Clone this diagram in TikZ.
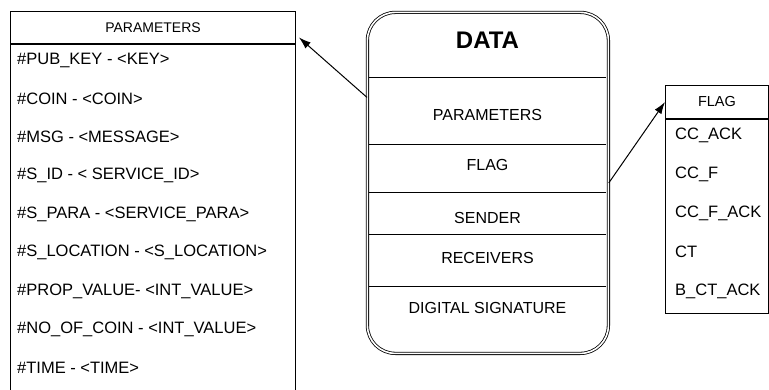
\documentclass[tikz,border=0pt]{standalone}
\usepackage{fontspec}
\setmainfont{Liberation Sans}
\usetikzlibrary{positioning,arrows.meta}

\tikzset{
  headcell/.style={draw, line width=1pt, anchor=north west, inner sep=0pt},
  bodycell/.style={draw, line width=1pt, anchor=north, inner sep=0pt},
  rowtext/.style={anchor=west, inner sep=0pt, font=\fontsize{16.5}{18}\selectfont},
  celltext/.style={inner sep=0pt, font=\fontsize{16}{18}\selectfont},
  link/.style={line width=1pt, -{Latex[length=12pt,width=8pt]}}
}

\begin{document}
\begin{tikzpicture}[x=1pt, y=-1pt]
  \clip (0,0) rectangle (769,390);
  % parameters table
  \node[headcell, minimum width=285pt, minimum height=32pt, font=\fontsize{14}{16}\selectfont] (phead) at (10,11) {PARAMETERS};
  \node[bodycell, minimum width=285pt, minimum height=380pt] (pbody) at (phead.south) {};
  \foreach \txt [count=\i] in {\#PUB\_KEY - <KEY>, \#COIN - <COIN>, \#MSG - <MESSAGE>,
      \#S\_ID - < SERVICE\_ID>, \#S\_PARA - <SERVICE\_PARA>, \#S\_LOCATION - <S\_LOCATION>,
      \#PROP\_VALUE- <INT\_VALUE>, \#NO\_OF\_COIN - <INT\_VALUE>, \#TIME - <TIME>}
    \node[rowtext] (prow\i) at (17,{60+38.5*(\i-1)}) {\txt};

  % data block
  \foreach \y in {78,145,193,235,287}
    \draw[line width=1pt] (369,\y) -- (606,\y);
  \node[draw, double, double distance=1.6pt, line width=0.8pt, rounded corners=28pt, minimum width=241pt, minimum height=341pt, anchor=north west, inner sep=0pt] (data) at (367,12) {};
  \node[inner sep=0pt, font=\fontsize{24}{26}\selectfont\bfseries] (dtitle) at (487.5,40) {DATA};
  \node[celltext] (dpar) at (487.5,115) {PARAMETERS};
  \node[celltext] (dflag) at (487.5,165) {FLAG};
  \node[celltext] (dsend) at (487.5,218) {SENDER};
  \node[celltext] (drecv) at (487.5,258) {RECEIVERS};
  \node[celltext] (dsig) at (487.5,308) {DIGITAL SIGNATURE};

  % flag table
  \node[headcell, minimum width=103pt, minimum height=33pt, font=\fontsize{14.5}{16}\selectfont] (fhead) at (665,85) {FLAG};
  \node[bodycell, minimum width=103pt, minimum height=194pt] (fbody) at (fhead.south) {};
  \foreach \txt [count=\i] in {CC\_ACK, CC\_F, CC\_F\_ACK, CT, B\_CT\_ACK}
    \node[rowtext] (frow\i) at (675,{135+39*(\i-1)}) {\txt};

  \draw[link] ([yshift=85.5pt]data.west) -- ([shift={(3,10)}]phead.east);
  \draw[link] (data.east) -- (fhead.west);
\end{tikzpicture}
\end{document}
